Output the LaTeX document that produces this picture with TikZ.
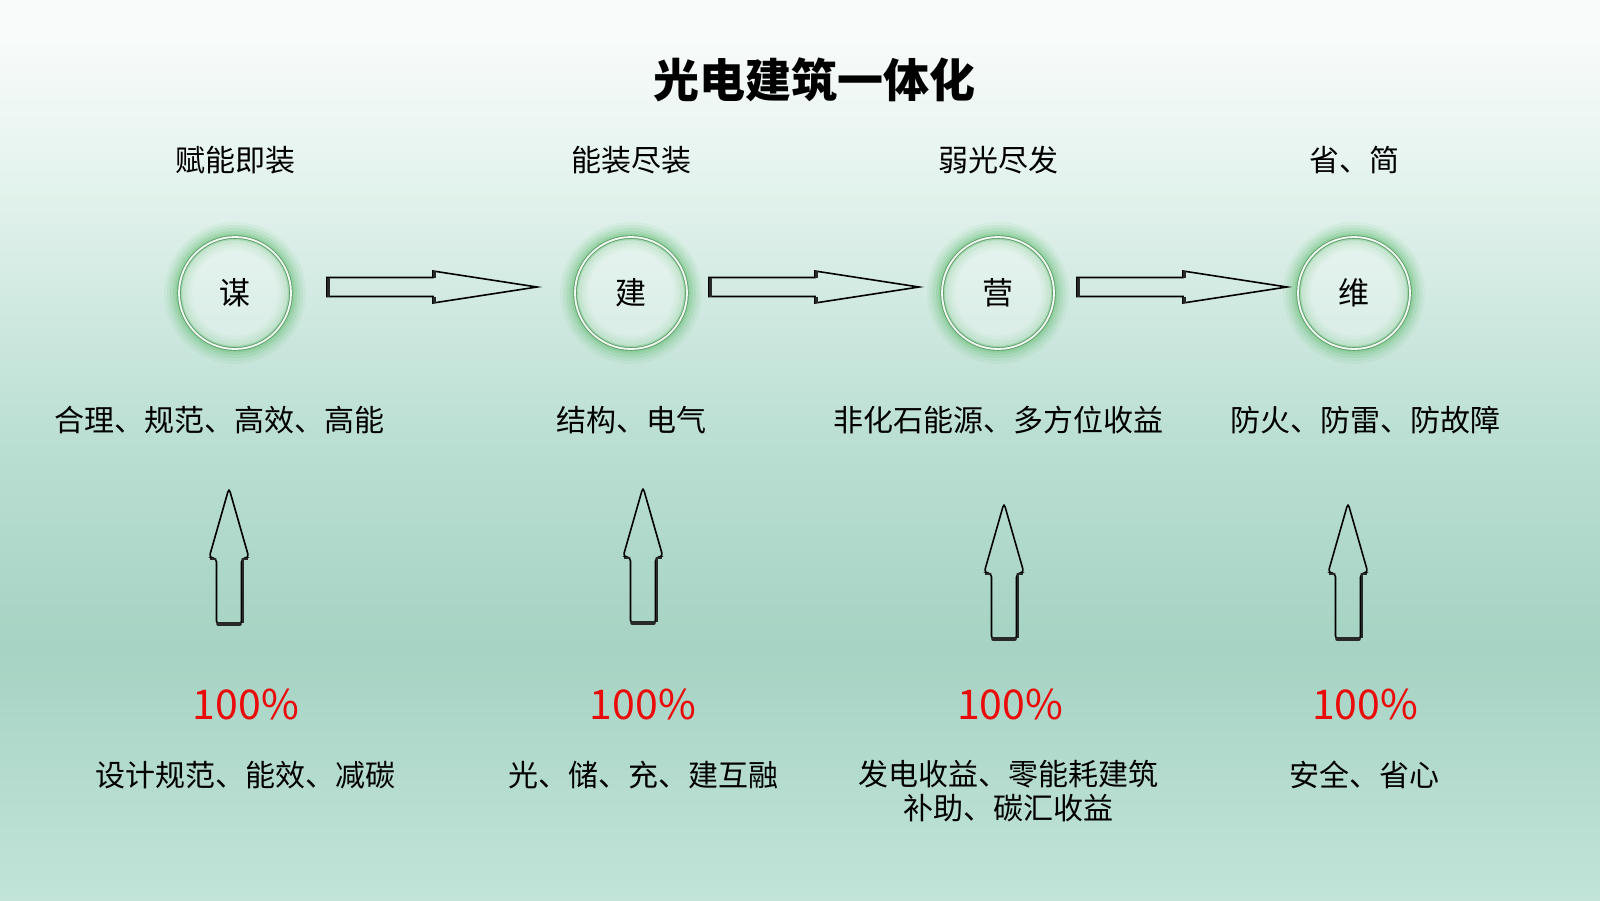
\documentclass[tikz,border=0pt]{standalone}
\usepackage{fontspec}
\setmainfont{Noto Sans CJK SC}
\usetikzlibrary{positioning}

\newlength{\du}
\setlength{\du}{1pt}

\definecolor{bgtop}{RGB}{248,251,250}
\definecolor{bghigh}{RGB}{228,243,237}
\definecolor{bgmid}{RGB}{185,222,210}
\definecolor{bglow}{RGB}{166,211,195}
\definecolor{bgbot}{RGB}{194,228,217}
\definecolor{glowgreen}{RGB}{100,190,115}
\definecolor{ringgreen}{RGB}{100,160,110}
\definecolor{edgedark}{RGB}{40,40,40}
\definecolor{pctred}{RGB}{235,10,10}

\pgfdeclareverticalshading{bgshade}{100bp}{color(0bp)=(bgbot); color(25bp)=(bgbot);
  color(38.9bp)=(bglow); color(50bp)=(bgmid); color(65bp)=(bghigh); color(73bp)=(bgtop); color(100bp)=(bgtop)}

\tikzset{
  ringnode/.style={circle, minimum size=114\du, inner sep=0pt, font=\fontsize{31}{36}\selectfont},
  toplabel/.style={font=\fontsize{30}{36}\selectfont},
  midlabel/.style={font=\fontsize{30}{36}\selectfont},
  pctlabel/.style={text=pctred, font=\fontsize{41}{48}\selectfont},
  botlabel/.style={align=center, font=\fontsize{30}{36}\selectfont},
  arrowline/.style={draw=black, line width=1.6\du, line join=miter},
  arrowedge/.style={draw=edgedark, line width=3.5\du}
}

% block arrow pointing right: x of tail, y of axis
\newcommand{\blockright}[2]{%
  \draw[arrowline] ({#1},{#2-9.5}) -- ({#1+106},{#2-9.5}) -- ({#1+106},{#2-16})
    -- ({#1+210},{#2}) -- ({#1+106},{#2+16}) -- ({#1+106},{#2+9.5}) -- ({#1},{#2+9.5}) -- cycle;
  \draw[arrowedge] ({#1+1.5},{#2-9.5}) -- ({#1+1.5},{#2+9.5});
  \draw[arrowedge] ({#1+107.5},{#2-9.5}) -- ({#1+107.5},{#2-16});
  \draw[arrowedge] ({#1+107.5},{#2+9.5}) -- ({#1+107.5},{#2+16});
}
% block arrow pointing up: x of axis, y of tip
\newcommand{\blockup}[2]{%
  \draw[arrowline, rounded corners=4\du] ({#1-12.5},{#2+137}) -- ({#1-12.5},{#2+70}) -- ({#1-20},{#2+70})
    -- ({#1},{#2}) -- ({#1+20},{#2+70}) -- ({#1+12.5},{#2+70}) -- ({#1+12.5},{#2+137}) -- cycle;
  \draw[arrowedge, line cap=round] ({#1-11},{#2+136}) -- ({#1+11},{#2+136});
  \draw[arrowedge, line width=2.5\du] ({#1+13},{#2+71}) -- ({#1+19},{#2+71});
  \draw[arrowedge, line width=2.5\du] ({#1-19},{#2+71}) -- ({#1-13},{#2+71});
  \draw[arrowedge, line width=2\du] ({#1+13.5},{#2+72}) -- ({#1+13.5},{#2+135});
}

\begin{document}
\begin{tikzpicture}[x=1\du, y=-1\du]
\useasboundingbox (0,0) rectangle (1600,900);
\shade[shading=bgshade] (0,0) rectangle (1600,900);

% title
\node[font=\fontsize{46}{52}\selectfont\bfseries] (title) at (814,80) {光电建筑一体化};

% glowing rings
\foreach \cx/\nm/\ch in {235/mou/谋, 631/jian/建, 998/ying/营, 1354/wei/维}{
  \foreach \w/\o in {28/0.08, 22/0.11, 16/0.15, 10/0.2, 5/0.28}{
    \draw[glowgreen, line width=\w\du, opacity=\o] (\cx,293) circle (57);
  }
  \fill[white, opacity=0.3] (\cx,293) circle (53);
  \draw[ringgreen, line width=0.9\du, double=white!90!glowgreen, double distance=1.8\du] (\cx,293) circle (56);
  \node[ringnode] (\nm) at (\cx,293) {\ch};
}

% top labels
\node[toplabel] (fn) at (235,160) {赋能即装};
\node[toplabel] (nz) at (631,160) {能装尽装};
\node[toplabel] (rg) at (998,160) {弱光尽发};
\node[toplabel] (sj) at (1354,160) {省、简};

% arrows between rings
\blockright{327}{287}
\blockright{709}{287}
\blockright{1077}{287}

% middle labels
\node[midlabel] (m1) at (219,420) {合理、规范、高效、高能};
\node[midlabel] (m2) at (631,420) {结构、电气};
\node[midlabel] (m3) at (998,420) {非化石能源、多方位收益};
\node[midlabel] (m4) at (1365,420) {防火、防雷、防故障};

% upward arrows
\blockup{229}{488}
\blockup{643}{487}
\blockup{1004}{503}
\blockup{1348}{503}

% percentages
\node[pctlabel] (p1) at (246,704) {100\%};
\node[pctlabel] (p2) at (643,704) {100\%};
\node[pctlabel] (p3) at (1010,704) {100\%};
\node[pctlabel] (p4) at (1365,704) {100\%};

% bottom labels
\node[botlabel] (b1) at (245,775) {设计规范、能效、减碳};
\node[botlabel] (b2) at (643,775) {光、储、充、建互融};
\node[botlabel, anchor=north] (b3) at (1008,757) {发电收益、零能耗建筑\\[-2pt]补助、碳汇收益};
\node[botlabel] (b4) at (1364,775) {安全、省心};
\end{tikzpicture}
\end{document}
